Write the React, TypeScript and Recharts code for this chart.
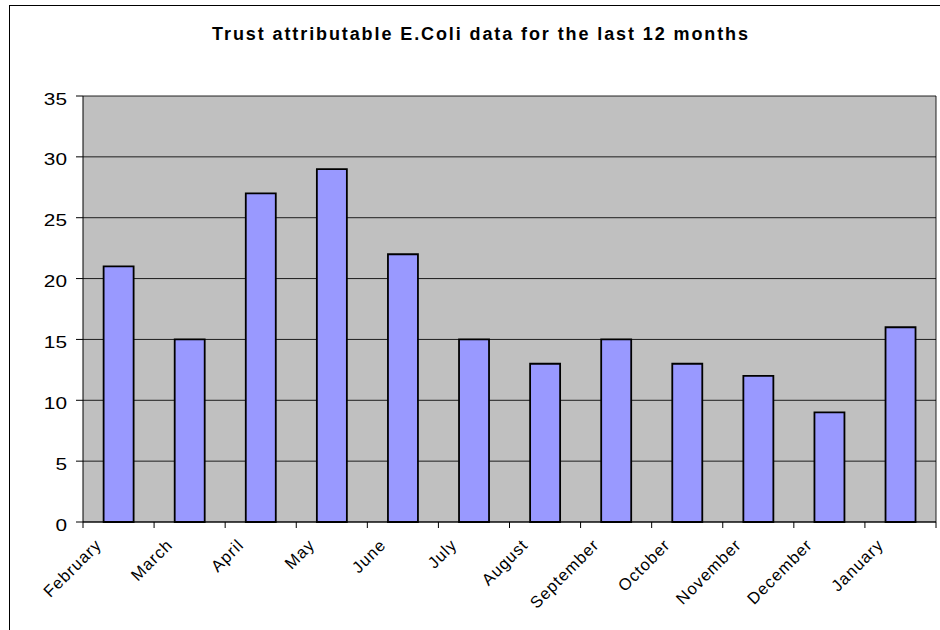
import { Bar, BarChart, CartesianGrid, XAxis, YAxis } from "recharts";

const months = [
  "February",
  "March",
  "April",
  "May",
  "June",
  "July",
  "August",
  "September",
  "October",
  "November",
  "December",
  "January",
];
const cases = [21, 15, 27, 29, 22, 15, 13, 15, 13, 12, 9, 16];
const countTicks = [0, 5, 10, 15, 20, 25, 30, 35];

const data = months.map((month, i) => ({ month, cases: cases[i] }));

const WIDTH = 940;
const HEIGHT = 630;
const MARGIN = { top: 96, right: 4, bottom: 0, left: 0 };
const Y_AXIS_W = 83;
const X_AXIS_H = 108;
const PLOT_W = WIDTH - MARGIN.left - MARGIN.right - Y_AXIS_W;
const BAND = PLOT_W / months.length;
const FONT = "'Liberation Sans', Arial, sans-serif";

// month label, rotated, plus a tick mark on the category boundary
function MonthTick({ x, y, payload, index }: any) {
  const lx = x - 16;
  const ly = y + 24;
  const left = x - BAND / 2;
  return (
    <g>
      <line x1={left} x2={left} y1={y} y2={y + 6} stroke="#000" />
      {index === months.length - 1 && (
        <line x1={x + BAND / 2} x2={x + BAND / 2} y1={y} y2={y + 6} stroke="#000" />
      )}
      <text
        x={lx}
        y={ly}
        transform={`rotate(-45, ${lx}, ${ly})`}
        textAnchor="end"
        fontSize={16.5}
        letterSpacing={1}
        fontFamily={FONT}
        fill="#000"
      >
        {payload.value}
      </text>
    </g>
  );
}

function CountTick({ x, y, payload }: any) {
  return (
    <text
      transform={`translate(${x}, ${y + 8.5}) scale(1.3, 1)`}
      textAnchor="end"
      fontSize={16}
      fontFamily={FONT}
      fill="#000"
    >
      {payload.value}
    </text>
  );
}

export default function App() {
  return (
    <div
      style={{
        position: "absolute",
        left: 0,
        top: 0,
        width: WIDTH,
        height: HEIGHT,
        overflow: "hidden",
        background: "#fff",
      }}
    >
      <div
        style={{
          position: "absolute",
          left: 9,
          top: 5,
          width: 1000,
          height: 1000,
          border: "1px solid #000",
        }}
      />
      <div
        style={{
          position: "absolute",
          left: 481,
          top: 25,
          transform: "translateX(-50%)",
          whiteSpace: "nowrap",
          fontFamily: FONT,
          fontWeight: "bold",
          fontSize: 18,
          lineHeight: "18px",
          letterSpacing: 1.9,
          color: "#000",
        }}
      >
        Trust attributable E.Coli data for the last 12 months
      </div>
      <div style={{ position: "absolute", left: 0, top: 0 }}>
        <BarChart
          width={WIDTH}
          height={HEIGHT}
          data={data}
          margin={MARGIN}
          barCategoryGap="29%"
        >
          <CartesianGrid
            fill="#C0C0C0"
            stroke="#000"
            strokeOpacity={0.85}
            verticalCoordinatesGenerator={({ offset }: any) => [
              offset.left + offset.width,
            ]}
          />
          <XAxis
            dataKey="month"
            interval={0}
            height={X_AXIS_H}
            axisLine={{ stroke: "#000" }}
            tickLine={false}
            tickSize={0}
            tickMargin={0}
            tick={<MonthTick />}
          />
          <YAxis
            domain={[0, 35]}
            ticks={countTicks}
            interval={0}
            width={Y_AXIS_W}
            axisLine={{ stroke: "#000" }}
            tickLine={{ stroke: "#000" }}
            tickSize={7}
            tickMargin={9}
            tick={<CountTick />}
          />
          <Bar
            dataKey="cases"
            fill="#9999FF"
            stroke="#000"
            strokeWidth={1.8}
            isAnimationActive={false}
          />
        </BarChart>
      </div>
    </div>
  );
}
